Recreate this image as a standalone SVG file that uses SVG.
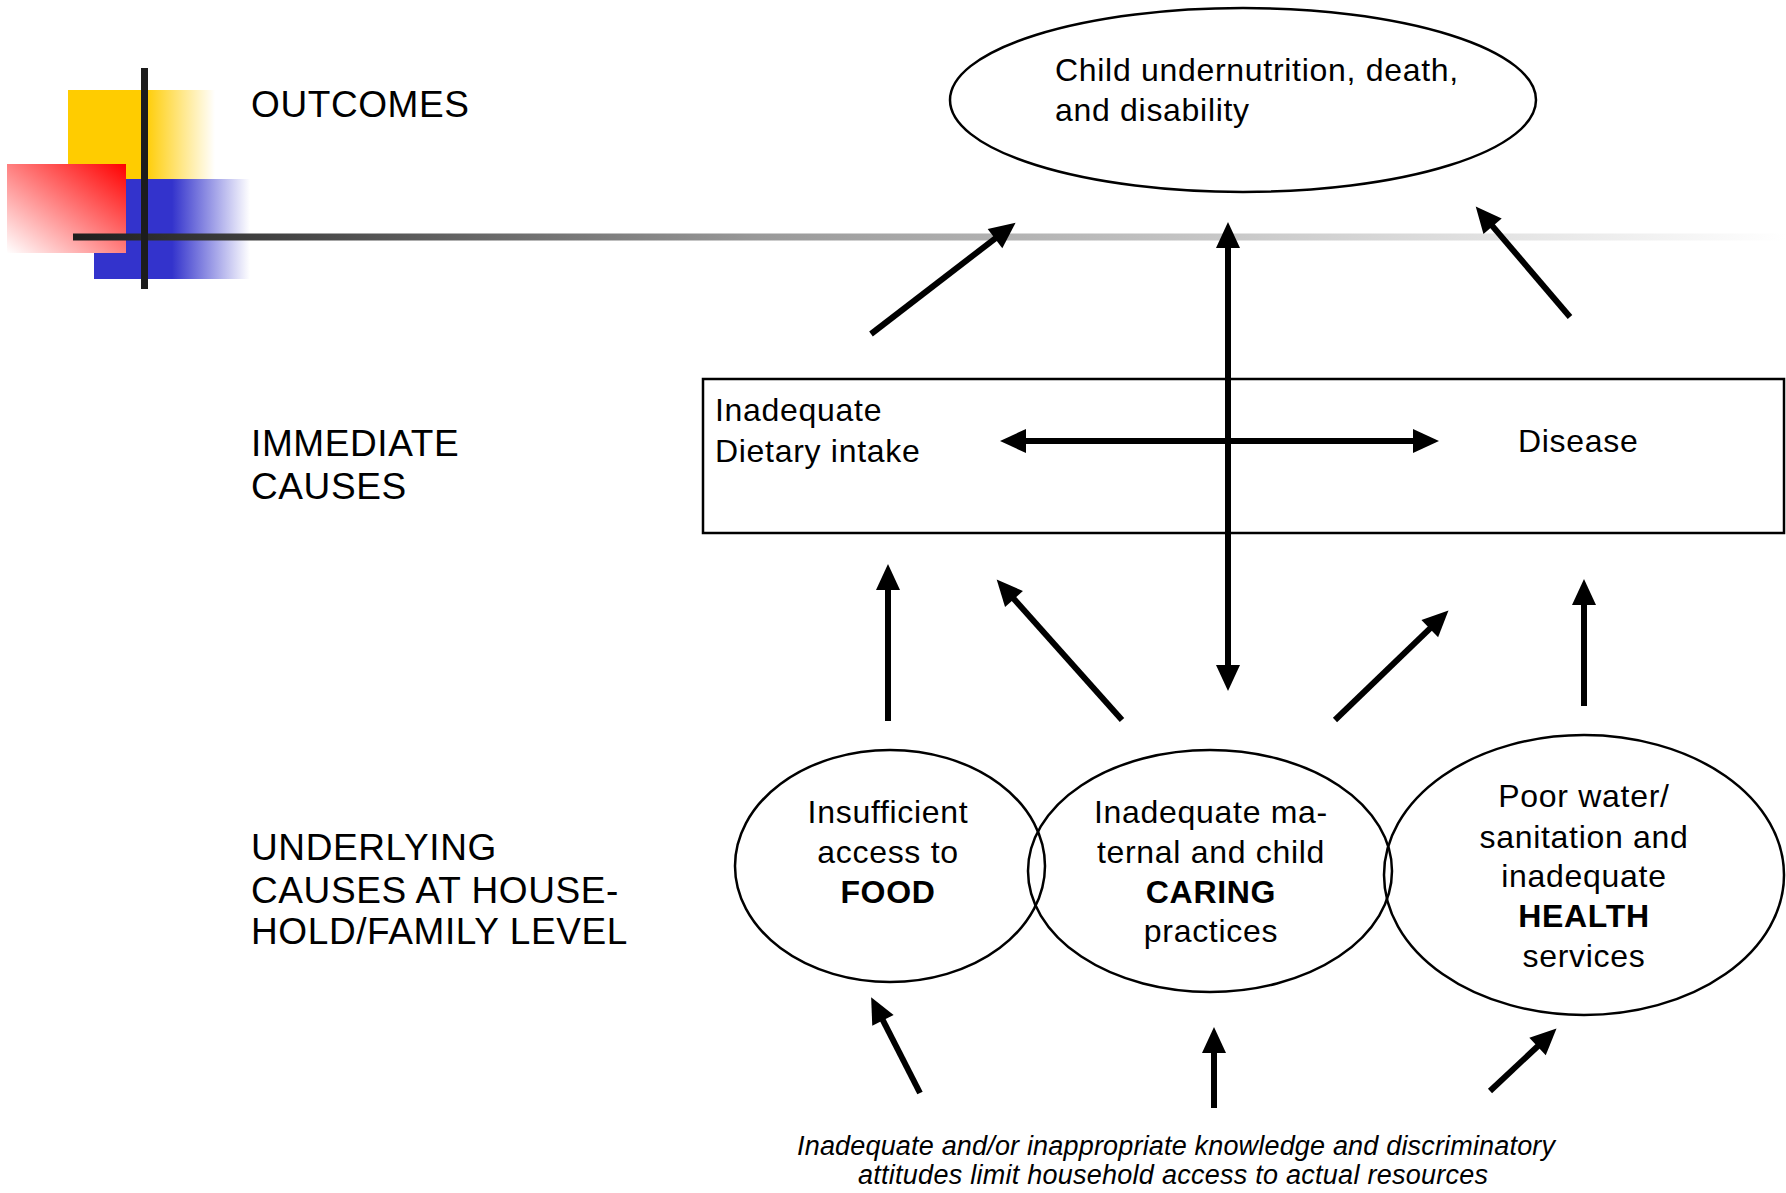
<svg xmlns="http://www.w3.org/2000/svg" width="1786" height="1193" viewBox="0 0 1786 1193">
<defs>
<style>
.lbl{font-family:"Liberation Sans",Arial,sans-serif;font-size:37px;letter-spacing:0.6px;fill:#000}
.txt{font-family:"Liberation Sans",Arial,sans-serif;font-size:32px;letter-spacing:0.7px;fill:#000}
.b{font-weight:bold}
.it{font-family:"Liberation Sans",Arial,sans-serif;font-size:27px;font-style:italic;fill:#000}
.shape{fill:none;stroke:#000;stroke-width:2.5}
.arr{stroke:#000;stroke-width:6;fill:none}
</style>
<linearGradient id="gY" x1="0" y1="0" x2="1" y2="0">
<stop offset="0" stop-color="#FFCC00"/><stop offset="0.52" stop-color="#FFCC00"/><stop offset="1" stop-color="#FFCC00" stop-opacity="0"/>
</linearGradient>
<linearGradient id="gB" x1="0" y1="0" x2="1" y2="0">
<stop offset="0" stop-color="#3333CC"/><stop offset="0.5" stop-color="#3333CC"/><stop offset="1" stop-color="#3333CC" stop-opacity="0"/>
</linearGradient>
<linearGradient id="gR" x1="1" y1="0" x2="0" y2="1">
<stop offset="0" stop-color="#FF0000"/><stop offset="1" stop-color="#FFFFFF"/>
</linearGradient>
<linearGradient id="gL" gradientUnits="userSpaceOnUse" x1="73" y1="0" x2="1786" y2="0">
<stop offset="0" stop-color="#1e1e1e"/><stop offset="0.4" stop-color="#999999"/><stop offset="1" stop-color="#ffffff"/>
</linearGradient>
<marker id="ah" markerUnits="userSpaceOnUse" markerWidth="28" markerHeight="26" refX="12" refY="12" orient="auto-start-reverse" overflow="visible">
<path d="M0,0 L26,12 L0,24 z" fill="#000"/>
</marker>
</defs>

<g id="logo">
<rect x="68" y="90" width="147" height="89" fill="url(#gY)"/>
<rect x="94" y="179" width="156" height="100" fill="url(#gB)"/>
<rect x="7" y="164" width="119" height="89" fill="url(#gR)"/>
<rect x="73" y="233.5" width="1713" height="7" fill="url(#gL)"/>
<rect x="141" y="68" width="7" height="221" fill="#1c1c1c"/>
</g>

<g id="labels">
<text class="lbl" x="251" y="117">OUTCOMES</text>
<text class="lbl" x="251" y="456">IMMEDIATE</text>
<text class="lbl" x="251" y="499">CAUSES</text>
<text class="lbl" x="251" y="860">UNDERLYING</text>
<text class="lbl" x="251" y="903">CAUSES AT HOUSE-</text>
<text class="lbl" x="251" y="944">HOLD/FAMILY LEVEL</text>
</g>

<g id="outcome">
<ellipse class="shape" cx="1243" cy="100" rx="293" ry="92"/>
<text class="txt" x="1055" y="81">Child undernutrition, death,</text>
<text class="txt" x="1055" y="121">and disability</text>
</g>

<g id="immediate">
<rect class="shape" x="703" y="379" width="1081" height="154" stroke-width="2"/>
<text class="txt" x="715" y="421">Inadequate</text>
<text class="txt" x="715" y="462">Dietary intake</text>
<text class="txt" x="1518" y="452">Disease</text>
</g>

<g id="food">
<ellipse class="shape" cx="890" cy="866" rx="155" ry="116"/>
<text class="txt" text-anchor="middle" x="888" y="823">Insufficient</text>
<text class="txt" text-anchor="middle" x="888" y="863">access to</text>
<text class="txt b" text-anchor="middle" x="888" y="903">FOOD</text>
</g>

<g id="caring">
<ellipse class="shape" cx="1210" cy="871" rx="182" ry="121"/>
<text class="txt" text-anchor="middle" x="1211" y="823">Inadequate ma-</text>
<text class="txt" text-anchor="middle" x="1211" y="863">ternal and child</text>
<text class="txt b" text-anchor="middle" x="1211" y="903">CARING</text>
<text class="txt" text-anchor="middle" x="1211" y="942">practices</text>
</g>

<g id="health">
<ellipse class="shape" cx="1584" cy="875" rx="200" ry="140"/>
<text class="txt" text-anchor="middle" x="1584" y="807">Poor water/</text>
<text class="txt" text-anchor="middle" x="1584" y="848">sanitation and</text>
<text class="txt" text-anchor="middle" x="1584" y="887">inadequate</text>
<text class="txt b" text-anchor="middle" x="1584" y="927">HEALTH</text>
<text class="txt" text-anchor="middle" x="1584" y="967">services</text>
</g>

<g id="basic">
<text class="it" text-anchor="middle" x="1176" y="1155" textLength="758">Inadequate and/or inappropriate knowledge and discriminatory</text>
<text class="it" text-anchor="middle" x="1173" y="1184" textLength="630">attitudes limit household access to actual resources</text>
</g>

<g id="connectors">
<line class="arr" x1="871" y1="334" x2="1004.5" y2="231.3" marker-end="url(#ah)"/>
<line class="arr" x1="1228" y1="236" x2="1228" y2="677" stroke-width="5" marker-start="url(#ah)" marker-end="url(#ah)"/>
<line class="arr" x1="1570" y1="317" x2="1484.8" y2="217.1" stroke-width="5" marker-end="url(#ah)"/>
<line class="arr" x1="1014" y1="441" x2="1425" y2="441" stroke-width="8" marker-start="url(#ah)" marker-end="url(#ah)"/>
<line class="arr" x1="888" y1="721" x2="888" y2="578" marker-end="url(#ah)"/>
<line class="arr" x1="1122" y1="720" x2="1006" y2="590" marker-end="url(#ah)"/>
<line class="arr" x1="1335" y1="720" x2="1438.4" y2="620.3" stroke-width="5" marker-end="url(#ah)"/>
<line class="arr" x1="1584" y1="706" x2="1584" y2="593" marker-end="url(#ah)"/>
<line class="arr" x1="920" y1="1093" x2="877.5" y2="1009.7" marker-end="url(#ah)"/>
<line class="arr" x1="1214" y1="1108" x2="1214" y2="1041" stroke-width="7" marker-end="url(#ah)"/>
<line class="arr" x1="1490" y1="1091" x2="1546.3" y2="1038.2" stroke-width="4" marker-end="url(#ah)"/>
</g>
</svg>
